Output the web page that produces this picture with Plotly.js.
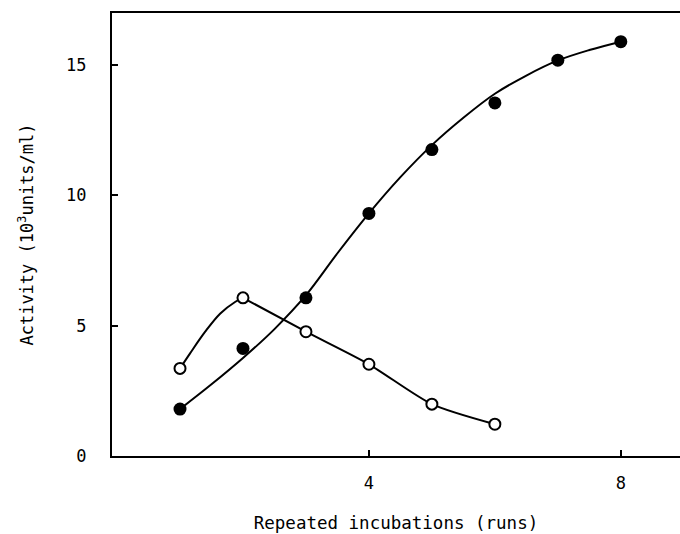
<!DOCTYPE html>
<html>
<head>
<meta charset="utf-8">
<script src="https://cdn.plot.ly/plotly-3.0.1.min.js"></script>
<style>
  html, body { margin: 0; padding: 0; background: #fff; }
  #chart { width: 680px; height: 534px; }
</style>
</head>
<body>
<div id="chart"></div>
<script>
// Activity over repeated incubation runs
const runs = [1, 2, 3, 4, 5, 6, 7, 8];
const filledActivity = [1.8, 4.13, 6.07, 9.31, 11.76, 13.55, 15.19, 15.9];

const openRuns = [1, 2, 3, 4, 5, 6];
const openActivity = [3.36, 6.07, 4.77, 3.52, 1.99, 1.22];

// hand-drawn trend curves, traced along their path
const filledCurveX = [1, 1.5, 2, 2.5, 3, 3.5, 4, 4.5, 5, 5.5, 6, 6.5, 7, 7.5, 8];
const filledCurveY = [1.8, 2.75, 3.76, 4.87, 6.17, 7.78, 9.31, 10.7, 11.93, 12.98, 13.9, 14.6, 15.18, 15.58, 15.9];

const openRiseX = [1, 1.16, 1.4, 1.64, 1.88, 2];
const openRiseY = [3.36, 3.94, 4.77, 5.47, 5.92, 6.07];
const openFallX = [2, 3, 4, 5, 6];
const openFallY = [6.07, 4.77, 3.52, 1.99, 1.22];

const xTicks = [4, 8];
const yTicks = [0, 5, 10, 15];

const ink = '#000';
const font = { family: '"DejaVu Sans Mono", "Liberation Mono", monospace', size: 17, color: ink };

const curve = (x, y, smoothing) => ({
  x, y, type: 'scatter', mode: 'lines',
  line: { color: ink, width: 2, shape: 'spline', smoothing },
  hoverinfo: 'skip', showlegend: false
});

const traces = [
  curve(filledCurveX, filledCurveY, 1),
  curve(openRiseX, openRiseY, 1),
  curve(openFallX, openFallY, 0.7),
  {
    x: runs, y: filledActivity, type: 'scatter', mode: 'markers',
    marker: { symbol: 'circle', size: 13, color: ink, line: { width: 0 } },
    showlegend: false
  },
  {
    x: openRuns, y: openActivity, type: 'scatter', mode: 'markers',
    marker: { symbol: 'circle', size: 11, color: '#fff', line: { color: ink, width: 2 } },
    showlegend: false
  }
];

const layout = {
  width: 680, height: 534,
  margin: { l: 112, r: 0, t: 13, b: 78 },
  paper_bgcolor: '#fff', plot_bgcolor: '#fff',
  font,
  showlegend: false,
  xaxis: {
    range: [-0.08, 8.94],
    tickvals: xTicks, ticktext: xTicks.map(String),
    ticks: 'inside', ticklen: 6, tickwidth: 2, tickcolor: ink,
    ticklabelstandoff: 11,
    showline: true, linecolor: ink, linewidth: 2, mirror: true,
    showgrid: false, zeroline: false,
    title: { text: 'Repeated incubations (runs)', font: Object.assign({}, font, { size: 17.5 }), standoff: 24 }
  },
  yaxis: {
    range: [0, 17],
    tickvals: yTicks, ticktext: yTicks.map(String),
    ticks: 'inside', ticklen: 6, tickwidth: 2, tickcolor: ink,
    ticklabelstandoff: 20,
    showline: true, linecolor: ink, linewidth: 2, mirror: true,
    showgrid: false, zeroline: false,
    title: { text: 'Activity (10<sup>3</sup>units/ml)', font, standoff: 28 }
  }
};

Plotly.newPlot('chart', traces, layout, { displayModeBar: false, staticPlot: true });
</script>
</body>
</html>
